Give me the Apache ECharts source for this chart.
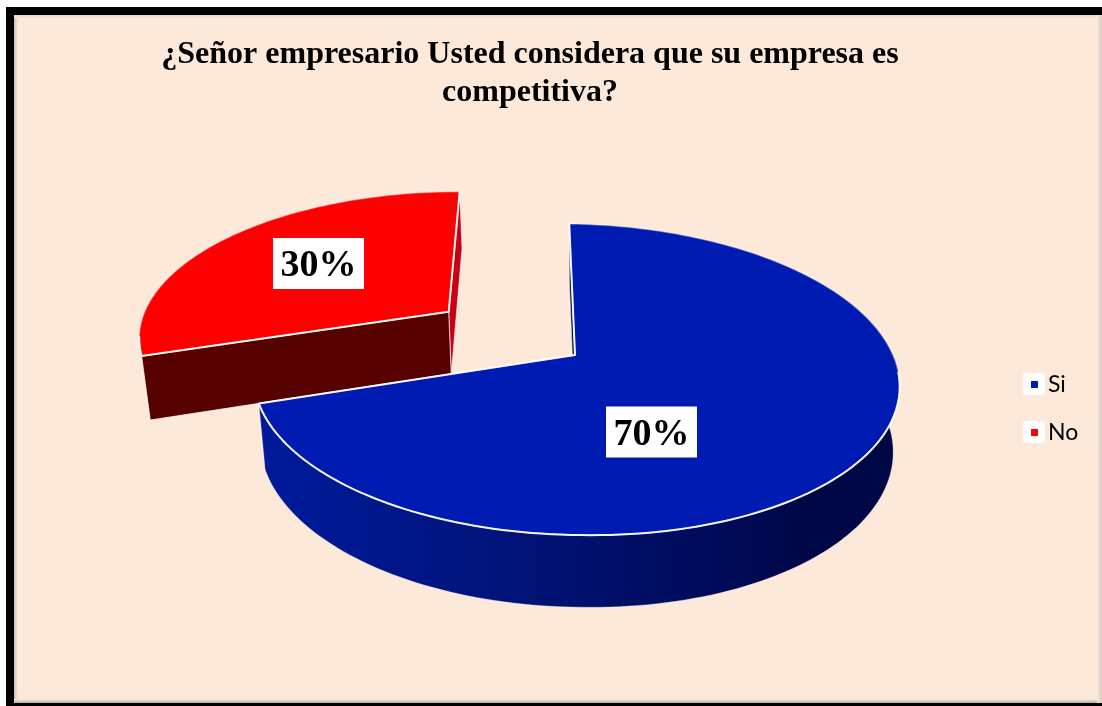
<!DOCTYPE html>
<html><head><meta charset="utf-8">
<style>html,body{margin:0;padding:0;background:#fff}#c{width:1102px;height:706px}</style>
<script src="https://cdn.jsdelivr.net/npm/echarts@6/dist/echarts.min.js"></script>
</head><body><div id="c"></div>
<script>
const titleText = '¿Señor empresario Usted considera que su empresa es\ncompetitiva?';
const categories = ['Si', 'No'];
const values = [70, 30];
const percentLabels = ['70%', '30%'];
const sliceColors = ['#001bb2', '#ff0000'];
const explodes = [0, 0.505];

// 3D projection of the pie disc
const P = {cx: 575, cy: 355, a: 319, b: 151.6, p: 0.1576, q: -0.005, shearL: 0.012, shearR: 0.022, start: -1.2, sx: 0.98, sy: 1.045, drop: 64};
const LABELS = [[651.5, 432], [318.5, 263.5]];
const total = values.reduce((s, v) => s + v, 0);

function project(X, Y) {
  const w = 1 + P.p * Y + P.q * X;
  const x = P.a * X / w;
  return [P.cx + x, P.cy - P.b * Y / w + (x > 0 ? P.shearR : P.shearL) * x];
}
function lower(pt) {
  return [P.cx + (pt[0] - P.cx) * P.sx, P.cy + (pt[1] - P.cy) * P.sy + P.drop];
}
function slicePoint(deg, off) {
  const r = deg * Math.PI / 180;
  return project(Math.sin(r) + off[0], Math.cos(r) + off[1]);
}
function arc(a0, a1, off) {
  const pts = [];
  const n = Math.max(2, Math.ceil(Math.abs(a1 - a0) / 1.5));
  for (let i = 0; i <= n; i++) pts.push(slicePoint(a0 + (a1 - a0) * i / n, off));
  return pts;
}
function renderSlice(idx, before) {
  const a0 = P.start + before / total * 360;
  const a1 = a0 + values[idx] / total * 360;
  const mid = (a0 + a1) / 2 * Math.PI / 180;
  const off = [explodes[idx] * Math.sin(mid), explodes[idx] * Math.cos(mid)];
  const apex = project(off[0], off[1]);
  const ring = arc(a0, a1, off);
  const pA = ring[0], pB = ring[ring.length - 1];
  const children = [];
  const poly = (points, fill, line, lw) => ({
    type: 'polygon', shape: {points}, style: {fill, stroke: line || null, lineWidth: lw || 0, lineJoin: 'round'}
  });
  const edge = (points, lw) => ({
    type: 'polyline', shape: {points}, style: {fill: null, stroke: 'rgba(255,255,255,0.92)', lineWidth: lw, lineJoin: 'round', lineCap: 'round'}
  });
  if (idx === 0) {
    // outer rim
    const rim = arc(88, a1, off);
    const wall = rim.concat(rim.map(lower).reverse());
    children.push(poly(wall, new echarts.graphic.LinearGradient(0, 0, 1, 0, [
      {offset: 0, color: '#001a9c'}, {offset: 0.35, color: '#00147c'},
      {offset: 0.72, color: '#000a58'}, {offset: 0.85, color: '#000746'}, {offset: 1, color: '#000746'}
    ]), 'rgba(255,255,255,0.3)', 1));
    children.push(poly([pA, apex, lower(apex), lower(pA)], '#000c48', 'rgba(255,255,255,0.5)', 1));
  } else {
    children.push(poly([pB, apex, lower(apex), lower(pB)], '#c80014', 'rgba(255,255,255,0.55)', 1));
    children.push(poly([pA, apex, lower(apex), lower(pA)], '#560000', 'rgba(255,255,255,0.7)', 1));
  }
  children.push(poly([apex].concat(ring), sliceColors[idx], 'rgba(255,255,255,0.35)', 1.5));
  if (idx === 0) {
    children.push(edge(arc(94, a1, off).concat([apex, pA]), 2));
  } else {
    children.push(edge([pB, apex].concat(ring.slice(0, 6)), 2));
  }
  const lx = LABELS[idx][0], ly = LABELS[idx][1];
  children.push({
    type: 'rect', z2: 9, shape: {x: lx - 45.5, y: ly - 25.5, width: 91, height: 51}, style: {fill: '#fff'}
  });
  children.push({
    type: 'text', z2: 10,
    style: {
      x: lx, y: ly + 3, text: percentLabels[idx], align: 'center', verticalAlign: 'middle',
      font: 'bold 38px "Liberation Serif"', fill: '#000'
    }
  });
  return {type: 'group', children};
}

const seriesList = categories.map((name, i) => ({
  type: 'custom', name, coordinateSystem: 'none', z: i === 0 ? 3 : 2,
  itemStyle: {color: sliceColors[i]},
  data: [[values[i], values.slice(0, i).reduce((s, v) => s + v, 0)]],
  renderItem: (params, api) => renderSlice(i, api.value(1))
}));

const rect = (x, y, width, height, fill, extra) => Object.assign({type: 'rect', shape: {x, y, width, height}, style: {fill}, silent: true}, extra || {});
const chart = echarts.init(document.getElementById('c'), null, {renderer: 'canvas'});
chart.setOption({
  animation: false,
  backgroundColor: '#ffffff',
  graphic: [
    rect(6, 7, 1096, 699, '#000'),
    rect(14, 15, 1088, 688, '#fde9d9'),
    rect(14, 15, 4, 688, new echarts.graphic.LinearGradient(0, 0, 1, 0, [{offset: 0, color: '#c9c0b8'}, {offset: 1, color: '#fde9d9'}])),
    rect(14, 15, 1088, 3, new echarts.graphic.LinearGradient(0, 0, 0, 1, [{offset: 0, color: '#e6d8cc'}, {offset: 1, color: '#fde9d9'}])),
    rect(14, 699, 1088, 4, new echarts.graphic.LinearGradient(0, 0, 0, 1, [{offset: 0, color: '#fde9d9'}, {offset: 1, color: '#b8afa8'}])),
    rect(1097, 15, 5, 688, new echarts.graphic.LinearGradient(0, 0, 1, 0, [{offset: 0, color: '#fde9d9'}, {offset: 1, color: '#d6cbc2'}])),
    rect(1023, 373, 22, 22, '#fff', {shape: {x: 1023, y: 373, width: 22, height: 22, r: 3}}),
    rect(1023, 421, 22, 22, '#fff', {shape: {x: 1023, y: 421, width: 22, height: 22, r: 3}})
  ],
  title: {
    text: titleText, left: 525, top: 31, textAlign: 'center',
    textStyle: {fontFamily: 'Liberation Serif', fontWeight: 'bold', fontSize: 32, lineHeight: 38, color: '#000'}
  },
  legend: {
    data: categories, orient: 'vertical', left: 1026, top: 366, icon: 'rect',
    itemWidth: 7, itemHeight: 7, itemGap: 21, selectedMode: false,
    textStyle: {fontFamily: 'Lato', fontSize: 23, color: '#000', padding: [0, 0, 0, 5], lineHeight: 27}
  },
  series: seriesList
});
</script></body></html>
